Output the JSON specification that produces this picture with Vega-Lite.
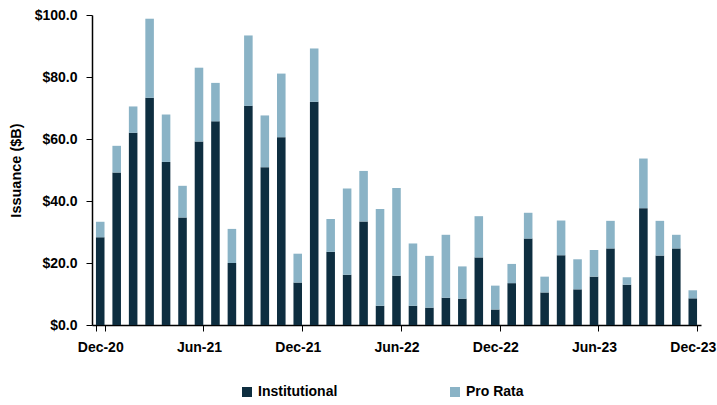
{
  "$schema": "https://vega.github.io/schema/vega-lite/v6.json",
  "autosize": {"type": "none"},
  "padding": {"left": 92, "top": 15, "right": 16, "bottom": 80},
  "width": 609,
  "height": 310,
  "background": "white",
  "config": {"view": {"stroke": null}, "font": "Liberation Sans"},
  "data": {"values": [
    {"month": "Dec-20", "Institutional": 28.3, "Pro Rata": 5.0},
    {"month": "Jan-21", "Institutional": 49.2, "Pro Rata": 8.6},
    {"month": "Feb-21", "Institutional": 62.0, "Pro Rata": 8.5},
    {"month": "Mar-21", "Institutional": 73.3, "Pro Rata": 25.5},
    {"month": "Apr-21", "Institutional": 52.6, "Pro Rata": 15.3},
    {"month": "May-21", "Institutional": 34.7, "Pro Rata": 10.2},
    {"month": "Jun-21", "Institutional": 59.2, "Pro Rata": 23.8},
    {"month": "Jul-21", "Institutional": 65.7, "Pro Rata": 12.4},
    {"month": "Aug-21", "Institutional": 20.0, "Pro Rata": 11.0},
    {"month": "Sep-21", "Institutional": 70.7, "Pro Rata": 22.7},
    {"month": "Oct-21", "Institutional": 50.9, "Pro Rata": 16.7},
    {"month": "Nov-21", "Institutional": 60.6, "Pro Rata": 20.5},
    {"month": "Dec-21", "Institutional": 13.7, "Pro Rata": 9.3},
    {"month": "Jan-22", "Institutional": 72.0, "Pro Rata": 17.2},
    {"month": "Feb-22", "Institutional": 23.6, "Pro Rata": 10.6},
    {"month": "Mar-22", "Institutional": 16.2, "Pro Rata": 27.8},
    {"month": "Apr-22", "Institutional": 33.4, "Pro Rata": 16.3},
    {"month": "May-22", "Institutional": 6.2, "Pro Rata": 31.2},
    {"month": "Jun-22", "Institutional": 15.9, "Pro Rata": 28.3},
    {"month": "Jul-22", "Institutional": 6.2, "Pro Rata": 20.1},
    {"month": "Aug-22", "Institutional": 5.6, "Pro Rata": 16.7},
    {"month": "Sep-22", "Institutional": 8.8, "Pro Rata": 20.3},
    {"month": "Oct-22", "Institutional": 8.5, "Pro Rata": 10.4},
    {"month": "Nov-22", "Institutional": 21.8, "Pro Rata": 13.3},
    {"month": "Dec-22", "Institutional": 5.0, "Pro Rata": 7.7},
    {"month": "Jan-23", "Institutional": 13.5, "Pro Rata": 6.2},
    {"month": "Feb-23", "Institutional": 27.9, "Pro Rata": 8.3},
    {"month": "Mar-23", "Institutional": 10.5, "Pro Rata": 5.1},
    {"month": "Apr-23", "Institutional": 22.5, "Pro Rata": 11.2},
    {"month": "May-23", "Institutional": 11.5, "Pro Rata": 9.7},
    {"month": "Jun-23", "Institutional": 15.6, "Pro Rata": 8.6},
    {"month": "Jul-23", "Institutional": 24.7, "Pro Rata": 8.9},
    {"month": "Aug-23", "Institutional": 13.0, "Pro Rata": 2.4},
    {"month": "Sep-23", "Institutional": 37.7, "Pro Rata": 16.0},
    {"month": "Oct-23", "Institutional": 22.4, "Pro Rata": 11.2},
    {"month": "Nov-23", "Institutional": 24.7, "Pro Rata": 4.4},
    {"month": "Dec-23", "Institutional": 8.6, "Pro Rata": 2.6}
  ]},
  "transform": [{"fold": ["Institutional", "Pro Rata"], "as": ["type", "value"]}],
  "mark": {"type": "bar"},
  "encoding": {
    "x": {
      "field": "month", "type": "nominal", "sort": null,
      "scale": {"paddingInner": 0.48, "paddingOuter": 0.24},
      "axis": {
        "title": null,
        "values": ["Dec-20", "Jun-21", "Dec-21", "Jun-22", "Dec-22", "Jun-23", "Dec-23"],
        "labelAngle": 0,
        "tickBand": "extent",
        "labelFont": "Liberation Sans", "labelFontWeight": "bold", "labelFontSize": 14, "labelColor": "#000",
        "labelPadding": 9,
        "domainColor": "#000", "tickColor": "#000", "tickSize": 6, "domainWidth": 1.5
      }
    },
    "y": {
      "field": "value", "type": "quantitative", "stack": "zero",
      "scale": {"domain": [0, 100]},
      "axis": {
        "title": "Issuance ($B)",
        "titleFont": "Liberation Sans", "titleFontWeight": "bold", "titleFontSize": 14.5, "titleColor": "#000",
        "titleX": -76, "titleBaseline": "middle", "titleAngle": -90, "titleAlign": "center",
        "values": [0, 20, 40, 60, 80, 100],
        "format": "$.1f",
        "labelFont": "Liberation Sans", "labelFontWeight": "bold", "labelFontSize": 14, "labelColor": "#000",
        "labelPadding": 9,
        "grid": false,
        "domainColor": "#000", "tickColor": "#000", "tickSize": 6, "domainWidth": 1.5
      }
    },
    "color": {
      "field": "type", "type": "nominal",
      "scale": {"domain": ["Institutional", "Pro Rata"], "range": ["#0e2e40", "#8ab3c6"]},
      "legend": {
        "title": null,
        "orient": "none", "direction": "horizontal",
        "legendX": 148, "legendY": 370,
        "symbolType": "square", "symbolSize": 100, "symbolStrokeWidth": 0,
        "labelFont": "Liberation Sans", "labelFontWeight": "bold", "labelFontSize": 14, "labelColor": "#000",
        "labelOffset": 4,
        "columnPadding": 110
      }
    },
    "order": {"field": "type", "sort": "ascending"}
  }
}
